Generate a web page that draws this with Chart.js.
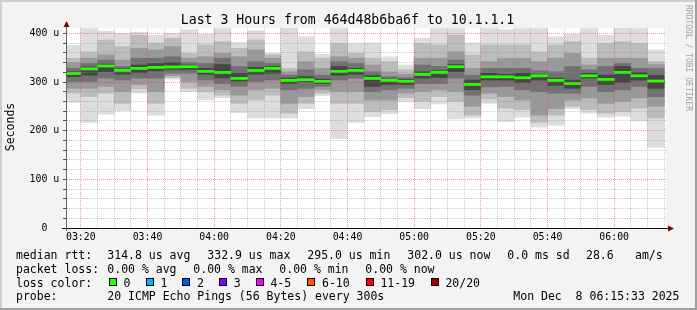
<!DOCTYPE html>
<html>
<head>
<meta charset="utf-8">
<script src="https://cdn.jsdelivr.net/npm/chart.js@4/dist/chart.umd.min.js"></script>
<style>
  html, body { margin: 0; padding: 0; background: #f3f3f3; }
  canvas { display: block; }
</style>
</head>
<body>
<canvas id="smoke" width="697" height="310"></canvas>
<script>
// ---- data ----
var graphStart = '03:15:33';
var graphEnd   = '06:15:33';

// start of each 5 minute step
var columnStart = ['03:15','03:20','03:25','03:30','03:35','03:40','03:45','03:50','03:55',
                   '04:00','04:05','04:10','04:15','04:20','04:25','04:30','04:35','04:40',
                   '04:45','04:50','04:55','05:00','05:05','05:10','05:15','05:20','05:25',
                   '05:30','05:35','05:40','05:45','05:50','05:55','06:00','06:05','06:10'];

// median rtt, microseconds
var rttMedian = [317.5, 327, 332.9, 323.8, 328, 330, 331, 331.5, 321.8, 319.7, 307.4, 323.8,
                 328, 303.3, 304.7, 301.3, 321.8, 323.8, 307.4, 303.3, 301.3, 315.6, 319.7, 331.5,
                 295, 310.7, 310.7, 308.7, 312.8, 303.3, 297, 312.8, 305.3, 319.7, 312.8, 302];

// smoke: nested ping ranges, outermost (min..max) to innermost
var rttMax = [375, 410, 404, 400, 402, 396, 400, 408, 398, 410, 381, 405, 359, 411, 393, 357, 410, 379,
              380, 352, 335, 390, 410, 410, 380, 410, 408, 410, 410, 393, 398, 410, 396, 411, 410, 366];
var rttHi2 = [349, 362, 386, 373, 396, 380, 390, 359, 376, 383, 369, 386, 356, 328, 362, 349, 379, 359,
              349, 342, 325, 379, 376, 396, 356, 376, 376, 376, 362, 376, 383, 349, 379, 383, 379, 342];
var rttHi3 = [340, 349, 356, 345, 369, 366, 373, 349, 352, 359, 352, 366, 349, 321, 342, 328, 352, 349,
              335, 321, 316, 349, 349, 362, 328, 342, 349, 349, 342, 349, 359, 335, 349, 349, 349, 336];
var rttHi4 = [328, 338, 345, 332, 349, 349, 352, 340, 338, 349, 332, 342, 338, 314, 325, 314, 342, 338,
              321, 311, 309, 335, 332, 345, 314, 328, 328, 328, 323, 321, 332, 325, 332, 338, 328, 328];
var rttHi5 = [321, 331, 337, 327, 335, 338, 340, 335, 328, 336, 318, 330, 332, 308, 311, 306, 332, 328,
              313, 306, 305, 321, 323, 336, 304, 318, 316, 318, 316, 308, 304, 318, 314, 332, 320, 314];
var rttLo5 = [311, 314, 321, 316, 319, 323, 326, 326, 316, 308, 302, 316, 318, 297, 301, 297, 314, 316,
              291, 295, 295, 308, 309, 321, 284, 304, 304, 299, 304, 293, 287, 308, 295, 299, 304, 287];
var rttLo4 = [301, 301, 308, 304, 308, 308, 318, 318, 304, 297, 291, 301, 304, 284, 287, 291, 304, 308,
              280, 284, 287, 297, 297, 308, 273, 290, 291, 284, 280, 277, 277, 291, 280, 284, 291, 270];
var rttLo3 = [287, 287, 291, 280, 295, 280, 313, 301, 291, 284, 273, 284, 287, 256, 270, 284, 280, 280,
              263, 263, 277, 280, 284, 280, 250, 277, 270, 263, 232, 245, 263, 267, 256, 260, 267, 250];
var rttLo2 = [277, 270, 277, 256, 286, 256, 309, 287, 280, 273, 256, 263, 273, 236, 256, 277, 256, 256,
              239, 243, 268, 260, 270, 260, 232, 265, 246, 243, 217, 232, 250, 243, 236, 239, 246, 226];
var rttMin = [258, 217, 234, 241, 277, 232, 306, 280, 263, 268, 237, 226, 226, 226, 245, 272, 184, 217,
              229, 235, 260, 245, 255, 224, 226, 256, 219, 228, 207, 211, 245, 236, 228, 230, 220, 166];

var yMax = 411;
var yLabelValues = [0, 100, 200, 300, 400];
var xLabelTimes = ['03:20','03:40','04:00','04:20','04:40','05:00','05:20','05:40','06:00'];

var lossNames  = ['0', '1', '2', '3', '4-5', '6-10', '11-19', '20/20'];
var lossColors = ['#26ff00', '#00b8ff', '#0059ff', '#7e00ff', '#ff00ff', '#ff5500', '#ff0000', '#a10000'];

// ---- helpers ----
function toMin(s) {
  var p = s.split(':');
  return (+p[0]) * 60 + (+p[1]) + (p[2] ? (+p[2]) / 60 : 0);
}
function fmtMin(v) {
  var h = Math.floor(v / 60), m = Math.round(v % 60);
  return (h < 10 ? '0' : '') + h + ':' + (m < 10 ? '0' : '') + m;
}

var STEP   = 5;
var xStart = toMin(graphStart);
var xEnd   = toMin(graphEnd);
var centers = columnStart.map(function (t) { return toMin(t) + STEP / 2; });
var xLabelMin = xLabelTimes.map(toMin);

var MONO = '"DejaVu Sans Mono", monospace';
var GRID_MINOR = 'rgba(140,140,140,0.45)';
var GRID_MAJOR = 'rgba(230,60,60,0.5)';

// smoke levels, light outside to dark inside
var levels = [
  { lo: rttMin, hi: rttMax, color: '#dddddd' },
  { lo: rttLo2, hi: rttHi2, color: '#bcbcbc' },
  { lo: rttLo3, hi: rttHi3, color: '#999999' },
  { lo: rttLo4, hi: rttHi4, color: '#717171' },
  { lo: rttLo5, hi: rttHi5, color: '#464646' }
];

// chart.js paints lower "order" on top, so outer bands get the higher numbers
var datasets = levels.map(function (lv, i) {
  return {
    order: levels.length - i + 1,
    data: centers.map(function (x, k) { return { x: x, y: [lv.lo[k], lv.hi[k]] }; }),
    backgroundColor: lv.color,
    borderWidth: 0,
    grouped: false,
    barPercentage: 1,
    categoryPercentage: 1
  };
});

// median bar, coloured by loss (all 0 loss here)
var MED_HALF = 2.2;
datasets.push({
  order: 0,
  data: centers.map(function (x, k) { return { x: x, y: [rttMedian[k] - MED_HALF, rttMedian[k] + MED_HALF] }; }),
  backgroundColor: lossColors[0],
  borderWidth: 0,
  grouped: false,
  barPercentage: 1,
  categoryPercentage: 1
});

// ---- decorations: frame, arrows, title, legend ----
var rrdDecor = {
  id: 'rrdDecor',
  beforeDraw: function (chart) {
    var c = chart.ctx, a = chart.chartArea;
    var W = chart.width, H = chart.height;
    c.save();
    c.fillStyle = '#f3f3f3';
    c.fillRect(0, 0, W, H);
    c.fillStyle = '#cfcfcf';
    c.fillRect(0, 0, W, 2);
    c.fillRect(0, 0, 2, H);
    c.fillStyle = '#9e9e9e';
    c.fillRect(0, H - 2, W, 2);
    c.fillRect(W - 2, 0, 2, H);
    c.fillStyle = '#ffffff';
    c.fillRect(a.left, a.top, a.right - a.left, a.bottom - a.top);
    c.restore();
  },
  afterDraw: function (chart) {
    var c = chart.ctx, a = chart.chartArea;
    c.save();

    // axis extensions + arrows
    c.strokeStyle = '#101010';
    c.lineWidth = 1;
    c.beginPath();
    c.moveTo(a.left - 4, a.bottom + 0.5);
    c.lineTo(a.right + 3, a.bottom + 0.5);
    c.stroke();
    c.strokeStyle = '#666666';
    c.beginPath();
    c.moveTo(a.left + 0.5, a.bottom + 3);
    c.lineTo(a.left + 0.5, a.top - 2);
    c.stroke();

    c.fillStyle = '#7f0000';
    c.beginPath();
    c.moveTo(a.left + 0.5, a.top - 7);
    c.lineTo(a.left - 2.5, a.top - 1);
    c.lineTo(a.left + 3.5, a.top - 1);
    c.closePath();
    c.fill();
    c.beginPath();
    c.moveTo(a.right + 8, a.bottom + 0.5);
    c.lineTo(a.right + 2, a.bottom - 2.5);
    c.lineTo(a.right + 2, a.bottom + 3.5);
    c.closePath();
    c.fill();

    // title
    c.fillStyle = '#000';
    c.textBaseline = 'alphabetic';
    c.textAlign = 'center';
    c.font = '13.2px ' + MONO;
    c.fillText('Last 3 Hours from 464d48b6ba6f to 10.1.1.1', 347.5, 23.5);

    // y axis title
    c.save();
    c.translate(11, 127);
    c.rotate(-Math.PI / 2);
    c.textBaseline = 'middle';
    c.font = '11.5px ' + MONO;
    c.fillText('Seconds', 0, 0);
    c.restore();

    // watermark
    c.save();
    c.translate(688, 5);
    c.rotate(Math.PI / 2);
    c.textAlign = 'left';
    c.textBaseline = 'middle';
    c.fillStyle = '#a0a0a0';
    c.font = '8px ' + MONO;
    c.fillText('RRDTOOL / TOBI OETIKER', 0, 0);
    c.restore();

    // legend
    c.textAlign = 'left';
    c.font = '11.5px ' + MONO;
    var rows = [
      [258.5, [[16, 'median rtt:'], [107.3, '314.8 us avg'], [207.3, '332.9 us max'], [307.3, '295.0 us min'],
               [407.3, '302.0 us now'], [507.3, '0.0 ms sd'], [586, '28.6'], [635, 'am/s']]],
      [272.5, [[16, 'packet loss:'], [107.3, '0.00 % avg'], [193.3, '0.00 % max'], [279.3, '0.00 % min'],
               [365.3, '0.00 % now']]],
      [286.5, [[16, 'loss color:']]],
      [300,   [[16, 'probe:'], [107.3, '20 ICMP Echo Pings (56 Bytes) every 300s'], [513.3, 'Mon Dec  8 06:15:33 2025']]]
    ];
    rows.forEach(function (r) {
      r[1].forEach(function (p) { c.fillText(p[1], p[0], r[0]); });
    });

    var boxX = [108.7, 145.7, 182.3, 219, 255.7, 307.3, 365.7, 430.7];
    lossNames.forEach(function (name, i) {
      var bx = Math.round(boxX[i]), by = 278;
      c.fillStyle = lossColors[i];
      c.fillRect(bx, by, 8, 8);
      c.strokeStyle = '#000';
      c.lineWidth = 1;
      c.strokeRect(bx + 0.5, by + 0.5, 7, 7);
      c.fillStyle = '#000';
      c.fillText(name, boxX[i] + 14.7, 286.5);
    });

    c.restore();
  }
};

new Chart(document.getElementById('smoke'), {
  type: 'bar',
  data: { datasets: datasets },
  plugins: [rrdDecor],
  options: {
    responsive: false,
    animation: false,
    layout: { padding: { top: 28, right: 31, left: 0, bottom: 0 } },
    plugins: { legend: { display: false }, tooltip: { enabled: false } },
    scales: {
      x: {
        type: 'linear',
        offset: false,
        min: xStart,
        max: xEnd,
        afterBuildTicks: function (axis) {
          var t = columnStart.slice(1).map(function (s) { return { value: toMin(s) }; });
          t.push({ value: toMin(columnStart[columnStart.length - 1]) + STEP });
          axis.ticks = t;
        },
        afterFit: function (s) { s.height = 82; },
        grid: {
          z: 1,
          offset: false,
          drawTicks: true,
          tickLength: 3,
          tickColor: 'rgba(0,0,0,0)',
          color: function (ctx) {
            return ctx.tick && xLabelMin.indexOf(ctx.tick.value) >= 0 ? GRID_MAJOR : GRID_MINOR;
          }
        },
        border: { z: 1, color: '#101010', dash: [1, 1] },
        ticks: {
          autoSkip: false,
          maxRotation: 0,
          padding: 0.5,
          color: '#000',
          font: { family: MONO, size: 9.9 },
          callback: function (v) { return xLabelMin.indexOf(v) >= 0 ? fmtMin(v) : ''; }
        }
      },
      y: {
        min: 0,
        max: yMax,
        afterBuildTicks: function (axis) {
          var t = [];
          for (var v = 0; v <= 400; v += 20) t.push({ value: v });
          axis.ticks = t;
        },
        afterFit: function (s) { s.width = 66; },
        grid: {
          z: 1,
          drawTicks: true,
          tickLength: 3,
          tickColor: '#555',
          color: function (ctx) {
            return ctx.tick && yLabelValues.indexOf(ctx.tick.value) >= 0 ? GRID_MAJOR : GRID_MINOR;
          }
        },
        border: { z: 1, color: '#666666', dash: [1, 1] },
        ticks: {
          autoSkip: false,
          padding: 3.7,
          color: '#000',
          font: { family: MONO, size: 9.9 },
          callback: function (v) {
            if (yLabelValues.indexOf(v) < 0) return '';
            return v === 0 ? '0  ' : v + ' u';
          }
        }
      }
    }
  }
});
</script>
</body>
</html>
